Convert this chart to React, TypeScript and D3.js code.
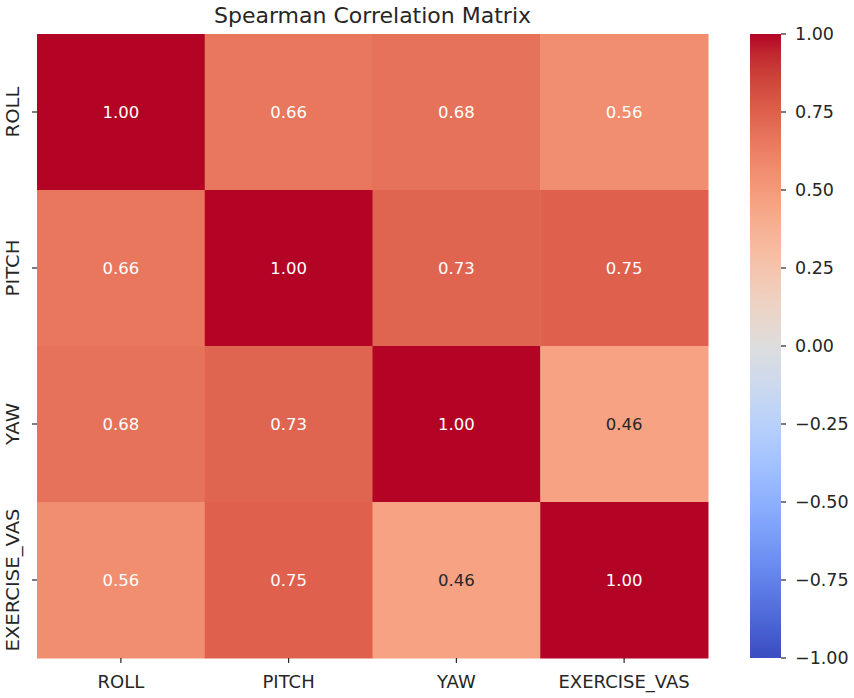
import React from "react";
import * as d3 from "d3";

const labels = ["ROLL", "PITCH", "YAW", "EXERCISE_VAS"];
const matrix = [
  [1.0, 0.66, 0.68, 0.56],
  [0.66, 1.0, 0.73, 0.75],
  [0.68, 0.73, 1.0, 0.46],
  [0.56, 0.75, 0.46, 1.0],
];
const cbTicks = [1.0, 0.75, 0.5, 0.25, 0.0, -0.25, -0.5, -0.75, -1.0];
const title = "Spearman Correlation Matrix";

// Moreland coolwarm table (33 points)
const coolwarmTable: [number, number, number][] = [
  [59, 76, 192], [68, 90, 204], [77, 104, 215], [87, 117, 225], [98, 130, 234],
  [108, 142, 241], [119, 154, 247], [130, 165, 251], [141, 176, 254], [152, 185, 255],
  [163, 194, 255], [174, 201, 253], [184, 208, 249], [194, 213, 244], [204, 217, 238],
  [213, 219, 230], [221, 221, 221], [229, 216, 209], [236, 211, 197], [241, 204, 185],
  [245, 196, 173], [247, 187, 160], [247, 177, 148], [247, 166, 135], [244, 154, 123],
  [241, 141, 111], [236, 127, 99], [229, 112, 88], [222, 96, 77], [213, 80, 66],
  [203, 62, 56], [192, 40, 47], [180, 4, 38],
];
const coolwarm = d3.piecewise(
  d3.interpolateRgb,
  coolwarmTable.map(([r, g, b]) => d3.rgb(r, g, b).toString())
);

const W = 854;
const H = 698;
const left = 37;
const top = 34;
const hmW = 671;
const hmH = 624;
const cbX = 750;
const cbW = 31;
const font = "DejaVu Sans, sans-serif";

function lum(c: string) {
  const col = d3.rgb(c);
  const f = (v: number) => {
    const s = v / 255;
    return s <= 0.03928 ? s / 12.92 : Math.pow((s + 0.055) / 1.055, 2.4);
  };
  return 0.2126 * f(col.r) + 0.7152 * f(col.g) + 0.0722 * f(col.b);
}

export default function App() {
  const x = d3.scaleBand<string>().domain(labels).range([left, left + hmW]);
  const y = d3.scaleBand<string>().domain(labels).range([top, top + hmH]);
  const color = d3.scaleSequential((t: number) => coolwarm(t)).domain([-1, 1]);
  const cbY = d3.scaleLinear().domain([-1, 1]).range([top + hmH, top]);
  const fmt = (v: number) => d3.format(".2f")(v).replace("-", "\u2212");

  const stops = d3.range(0, 33).map((i) => i / 32);

  return (
    <svg
      width={W}
      height={H}
      style={{ position: "absolute", left: 0, top: 0, background: "#fff" }}
    >
      <defs>
        <linearGradient id="cb" x1="0" y1="1" x2="0" y2="0">
          {stops.map((t) => (
            <stop key={t} offset={t} stopColor={coolwarm(t)} />
          ))}
        </linearGradient>
      </defs>
      <text
        x={left + hmW / 2}
        y={23}
        textAnchor="middle"
        fontFamily={font}
        fontSize={22}
        fill="#262626"
      >
        {title}
      </text>
      {matrix.map((row, i) =>
        row.map((v, j) => {
          const c = color(v);
          const tc = lum(c) < 0.408 ? "#ffffff" : "#262626";
          return (
            <g key={`${i}-${j}`}>
              <rect
                x={x(labels[j])}
                y={y(labels[i])}
                width={x.bandwidth() + 0.5}
                height={y.bandwidth() + 0.5}
                fill={c}
              />
              <text
                x={(x(labels[j]) as number) + x.bandwidth() / 2}
                y={(y(labels[i]) as number) + y.bandwidth() / 2}
                textAnchor="middle"
                dominantBaseline="central"
                fontFamily={font}
                fontSize={16.5}
                fill={tc}
              >
                {fmt(v)}
              </text>
            </g>
          );
        })
      )}
      {labels.map((l) => {
        const cx = (x(l) as number) + x.bandwidth() / 2;
        return (
          <g key={"x" + l}>
            <line x1={cx} x2={cx} y1={top + hmH} y2={top + hmH + 5} stroke="#262626" strokeWidth={1.2} />
            <text x={cx} y={688} textAnchor="middle" fontFamily={font} fontSize={18} fill="#262626">
              {l}
            </text>
          </g>
        );
      })}
      {labels.map((l) => {
        const cy = (y(l) as number) + y.bandwidth() / 2;
        return (
          <g key={"y" + l}>
            <line x1={left - 5} x2={left} y1={cy} y2={cy} stroke="#262626" strokeWidth={1.2} />
            <text
              transform={`translate(19,${cy}) rotate(-90) scale(1.09,1)`}
              textAnchor="middle"
              fontFamily={font}
              fontSize={18}
              fill="#262626"
            >
              {l}
            </text>
          </g>
        );
      })}
      <rect x={cbX} y={top} width={cbW} height={hmH} fill="url(#cb)" />
      {cbTicks.map((t) => (
        <g key={"cb" + t}>
          <line x1={cbX + cbW} x2={cbX + cbW + 5} y1={cbY(t)} y2={cbY(t)} stroke="#262626" strokeWidth={1.2} />
          <text
            x={cbX + cbW + 14}
            y={cbY(t)}
            dominantBaseline="central"
            fontFamily={font}
            fontSize={17.5}
            fill="#262626"
          >
            {fmt(t)}
          </text>
        </g>
      ))}
    </svg>
  );
}
